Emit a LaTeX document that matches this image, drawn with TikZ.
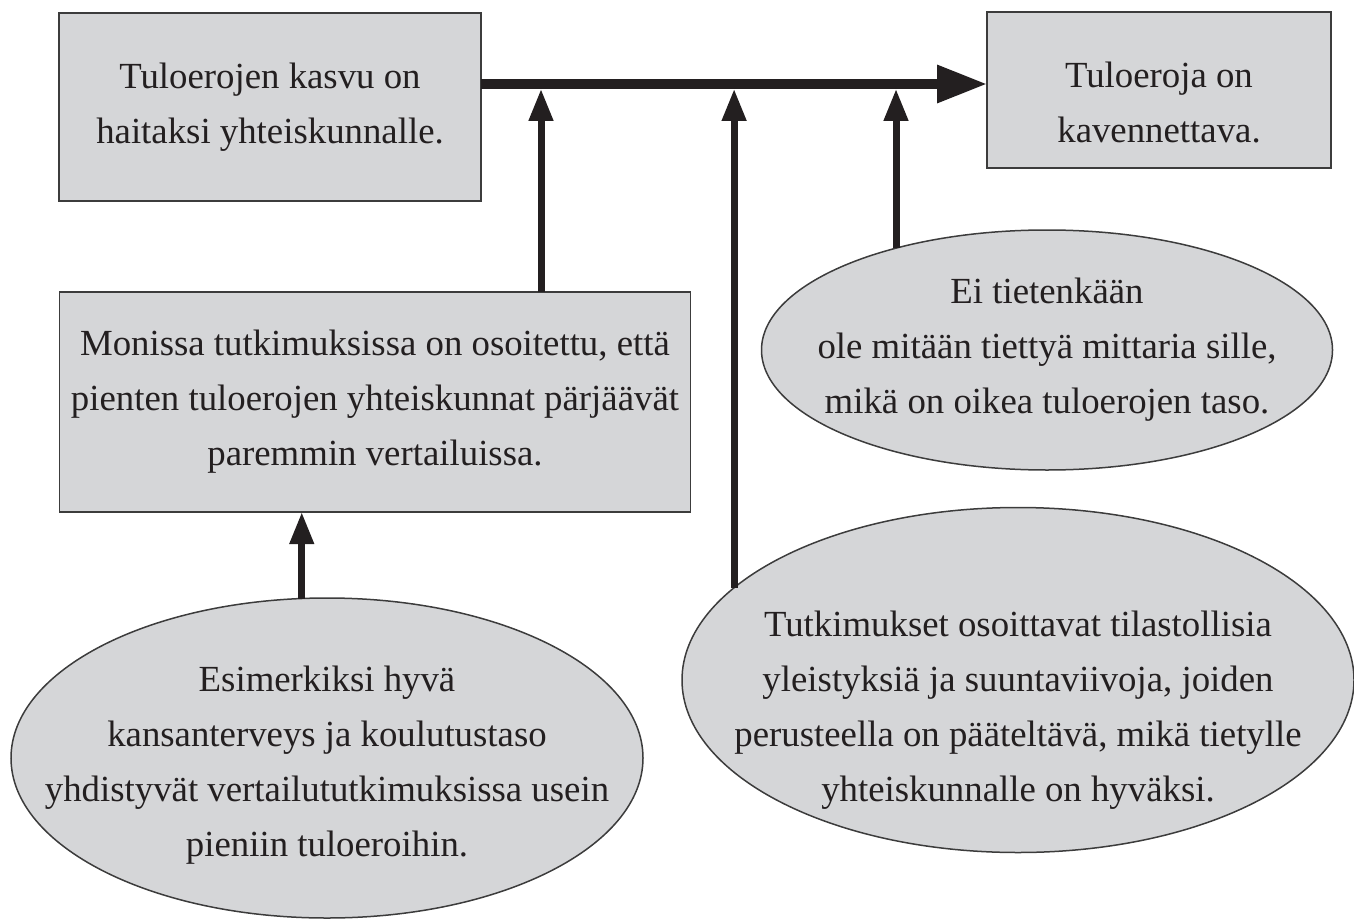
\documentclass[tikz,border=0pt]{standalone}
\usepackage{fontspec}
\setmainfont{Liberation Serif}
\usetikzlibrary{arrows.meta,shapes.geometric}
\definecolor{boxgray}{HTML}{D5D6D8}
\definecolor{ink}{HTML}{231F20}
\definecolor{edgegray}{HTML}{3C3C3C}

\begin{document}
\begin{tikzpicture}[x=0.5pt,y=-0.5pt,
	every node/.style={font=\fontsize{18.4}{27.5}\selectfont,text=ink,outer sep=0pt},
	box/.style={rectangle,draw=edgegray,fill=boxgray,line width=0.75pt,align=center},
	bubble/.style={ellipse,draw=edgegray,fill=boxgray,line width=0.75pt,inner sep=0pt},
	bubble text/.style={align=center},
	spine/.style={draw=ink,line width=4.75pt,-{Triangle[length=25pt,width=18pt]}},
	prop/.style={draw=ink,line width=3.5pt,-{Triangle[length=16pt,width=11.5pt]}}
]
\useasboundingbox (0,0) rectangle (1354,920);

% boxes
\node[box,minimum width=211pt,minimum height=94pt] (cause) at (270,107) {Tuloerojen kasvu on\\haitaksi yhteiskunnalle.};
\node[box,minimum width=172pt,minimum height=78pt] (claim) at (1159,90) {};
\node (claim text) at ([yshift=-6pt]claim) [align=center] {Tuloeroja on\\kavennettava.};
\node[box,minimum width=315.5pt,minimum height=110pt] (ground) at (375,402) {Monissa tutkimuksissa on osoitettu, että\\pienten tuloerojen yhteiskunnat pärjäävät\\paremmin vertailuissa.};

% ellipses
\node[bubble,minimum width=316pt,minimum height=160pt] (example) at (327,758) {};
\node[bubble text] (example text) at ([yshift=-3.5pt]example) {Esimerkiksi hyvä\\kansanterveys ja koulutustaso\\yhdistyvät vertailututkimuksissa usein\\pieniin tuloeroihin.};
\node[bubble,minimum width=336pt,minimum height=172.5pt] (stats) at (1018,680) {};
\node[bubble text] (stats text) at ([yshift=-15pt]stats) {Tutkimukset osoittavat tilastollisia\\yleistyksiä ja suuntaviivoja, joiden\\perusteella on pääteltävä, mikä tietylle\\yhteiskunnalle on hyväksi.};
\node[bubble,minimum width=285.5pt,minimum height=120pt] (limit) at (1047,350) {};
\node[bubble text] (limit text) at (limit) {Ei tietenkään\\ole mitään tiettyä mittaria sille,\\mikä on oikea tuloerojen taso.};

% arrows
\coordinate (bar) at (541,84);
\draw[spine] (cause.east |- bar) -- (claim.west |- bar);
\draw[prop,shorten >=2.4pt] (ground.north -| bar) -- (bar);
\draw[prop,shorten >=2.4pt] (stats.162.6) -- (stats.162.6 |- bar);
\draw[prop,shorten >=2.4pt] (limit.146.8) -- (limit.146.8 |- bar);
\draw[prop] (example.99.6) -- (example.99.6 |- ground.south);
\end{tikzpicture}
\end{document}
